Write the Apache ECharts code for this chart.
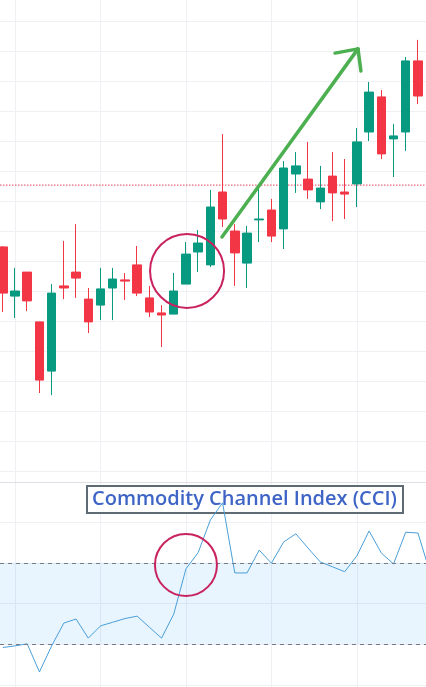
<!DOCTYPE html>
<html>
<head>
<meta charset="utf-8">
<script src="https://cdn.jsdelivr.net/npm/echarts@6/dist/echarts.min.js"></script>
<style>
	html, body { margin: 0; padding: 0; background: #fff; }
	#chart { width: 426px; height: 687px; }
</style>
</head>
<body>
<div id="chart"></div>
<script>
// candles, one per bar
var opens  = [47.47, 45.83, 46.63, 44.97, 43.33, 46.17, 46.63, 45.73, 45.53, 46.10, 46.37, 46.87, 45.77, 45.27, 45.23, 46.23, 47.30, 46.87,
	49.30, 48.00, 46.93, 48.37, 48.70, 48.07, 49.90, 49.73, 48.97, 49.83, 49.30, 49.57, 51.30, 52.47, 51.07, 51.30, 53.67];
var closes = [45.93, 46.00, 45.67, 43.03, 45.93, 46.10, 46.43, 44.97, 46.07, 46.40, 46.33, 45.93, 45.30, 45.20, 46.00, 47.23, 47.60, 48.80,
	48.40, 47.27, 47.93, 48.40, 47.83, 50.10, 50.17, 49.37, 49.43, 49.27, 49.23, 50.97, 52.63, 50.57, 51.17, 53.67, 52.50];
var lows   = [45.30, 45.10, 45.33, 42.60, 42.53, 45.73, 45.77, 44.60, 45.03, 45.03, 45.70, 45.83, 45.13, 44.13, 45.23, 46.23, 46.63, 46.80,
	48.13, 46.17, 46.10, 47.63, 47.63, 47.40, 49.27, 49.07, 48.73, 48.33, 48.40, 48.80, 51.00, 50.40, 49.80, 50.67, 52.23];
var highs  = [47.50, 46.77, 46.63, 44.97, 46.23, 47.67, 48.23, 46.10, 46.77, 46.77, 46.60, 47.50, 46.17, 45.53, 46.60, 47.63, 48.03, 49.37,
	51.23, 48.23, 48.17, 49.40, 49.07, 50.33, 50.63, 50.97, 50.17, 50.63, 50.40, 51.43, 52.97, 52.70, 51.57, 53.80, 54.37];

// CCI values per bar (last one runs off the right edge)
var cci = [-108, -104, -99, -168, -104, -48, -38, -85, -55, -46, -37, -31, -58, -85, -26, 85, 125, 205,
	247, 75, 75, 131, 99, 151, 171, 136, 102, 90, 78, 117, 178, 124, 97, 175, 173, 75];

var cciLevels = [100, -100];
var lastPrice = 49.53;
var cciTitle = 'Commodity Channel Index (CCI)';

// annotations, in bar index / price units
var arrowLine = [[17.95, 47.80], [29.09, 54.07]];
var arrowHead = [[27.21, 53.93], [29.33, 53.33]];
var priceCircle = [15.09, 46.67];
var cciCircle = [15.0, 94.5];

var up = '#089981', down = '#f23645';
var gridColor = '#eef0f3';
var xMin = -0.23, xMax = 34.66;

function buildCandles() {
	var data = new Array();
	for(var i = 0; i < opens.length; i++) data[i] = [i, opens[i], closes[i], lows[i], highs[i]];
	return data;
}

function buildCci() {
	var data = new Array();
	for(var i = 0; i < cci.length; i++) data[i] = [i, cci[i]];
	return data;
}

function arrowMarks() {
	var style = { color: '#4caf50', width: 3.5, type: 'solid', cap: 'round' };
	var tip = arrowLine[1];
	var marks = [
		[{ coord: arrowLine[0], lineStyle: style }, { coord: tip }]
	];
	for(var i = 0; i < arrowHead.length; i++) marks.push([{ coord: tip, lineStyle: style }, { coord: arrowHead[i] }]);
	return marks;
}

function circleMark(coord, size) {
	return {
		coord: coord,
		symbol: 'circle',
		symbolSize: size,
		itemStyle: { color: 'rgba(0,0,0,0)', borderColor: '#c8235f', borderWidth: 2 },
		label: { show: false }
	};
}

var mychart = echarts.init(document.getElementById('chart'));
var option = {
	animation: false,
	title: {
		text: cciTitle,
		left: 87,
		top: 486,
		z: 1,
		padding: [3, 6, 4, 5],
		backgroundColor: '#fff',
		borderColor: '#5e6b74',
		borderWidth: 2,
		textStyle: { fontFamily: 'Open Sans', fontWeight: 600, fontSize: 20, color: '#3e65c6' }
	},
	grid: [
		{ left: 15, right: 69, top: 0, bottom: 0 },
		{ left: 0, right: 0, top: 21, height: 450 },
		{ left: 0, right: 0, top: 522, bottom: 2 }
	],
	xAxis: [
		{ gridIndex: 0, type: 'value', min: 0, max: 4, interval: 1, axisLine: { show: false }, axisTick: { show: false }, axisLabel: { show: false },
			splitLine: { show: true, lineStyle: { color: gridColor } } },
		{ gridIndex: 1, type: 'value', min: xMin, max: xMax, show: false },
		{ gridIndex: 2, type: 'value', min: xMin, max: xMax, position: 'top', offset: 40,
			axisLine: { show: true, onZero: false, lineStyle: { color: '#dcdfe4' } }, axisTick: { show: false }, axisLabel: { show: false }, splitLine: { show: false } }
	],
	yAxis: [
		{ gridIndex: 0, type: 'value', show: false },
		{ gridIndex: 1, type: 'value', min: 40, max: 55, interval: 1, axisLine: { show: false }, axisTick: { show: false }, axisLabel: { show: false },
			splitLine: { show: true, lineStyle: { color: gridColor } } },
		{ gridIndex: 2, type: 'value', min: -200, max: 200, interval: 100, axisLine: { show: false }, axisTick: { show: false }, axisLabel: { show: false },
			splitLine: { show: true, lineStyle: { color: gridColor } } }
	],
	series: [{
		// last price line
		type: 'line',
		xAxisIndex: 1,
		yAxisIndex: 1,
		z: 1,
		silent: true,
		showSymbol: false,
		data: [[xMin, lastPrice], [xMax, lastPrice]],
		lineStyle: { color: '#e0405a', width: 1, type: [1.5, 1.5] }
	}, {
		type: 'candlestick',
		xAxisIndex: 1,
		yAxisIndex: 1,
		barWidth: 9,
		data: buildCandles(),
		itemStyle: { color: up, color0: down, borderColor: up, borderColor0: down, borderWidth: 1 },
		markLine: {
			silent: true,
			symbol: ['none', 'none'],
			label: { show: false },
			data: arrowMarks()
		},
		markPoint: {
			silent: true,
			data: [circleMark(priceCircle, 74)]
		}
	}, {
		type: 'line',
		xAxisIndex: 2,
		yAxisIndex: 2,
		data: buildCci(),
		clip: false,
		z: 3,
		showSymbol: false,
		lineStyle: { color: '#4a9fd8', width: 1 },
		markArea: {
			silent: true,
			itemStyle: { color: 'rgba(33,150,243,0.1)' },
			data: [[{ yAxis: cciLevels[0] }, { yAxis: cciLevels[1] }]]
		},
		markLine: {
			silent: true,
			symbol: ['none', 'none'],
			label: { show: false },
			lineStyle: { color: '#787b86', width: 1, type: [4, 4] },
			data: [{ yAxis: cciLevels[0] }, { yAxis: cciLevels[1] }]
		},
		markPoint: {
			silent: true,
			data: [circleMark(cciCircle, 62)]
		}
	}]
};
mychart.setOption(option);
</script>
</body>
</html>
